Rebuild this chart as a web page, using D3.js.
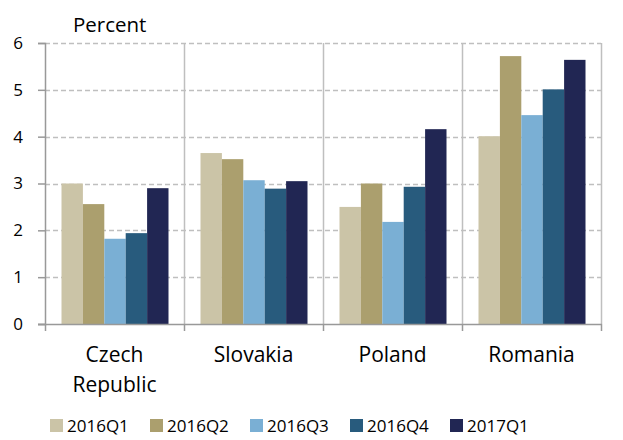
<!DOCTYPE html>
<html>
<head>
<meta charset="utf-8">
<script src="https://cdn.jsdelivr.net/npm/d3@7"></script>
<style>
  body { margin: 0; background: #fff; }
  svg { font-family: "Open Sans", sans-serif; }
</style>
</head>
<body>
<div id="chart"></div>
<script>
// data
var countries = ["Czech Republic", "Slovakia", "Poland", "Romania"];
var quarters = ["2016Q1", "2016Q2", "2016Q3", "2016Q4", "2017Q1"];
var q1_2016 = [3.00, 3.65, 2.50, 4.01];
var q2_2016 = [2.56, 3.52, 3.00, 5.72];
var q3_2016 = [1.82, 3.07, 2.18, 4.46];
var q4_2016 = [1.94, 2.89, 2.93, 5.01];
var q1_2017 = [2.90, 3.05, 4.16, 5.64];
var yTicks = [0, 1, 2, 3, 4, 5, 6];
var colors = ["#cbc4a7", "#ab9f6e", "#7aafd4", "#285b7d", "#212653"];

var series = [q1_2016, q2_2016, q3_2016, q4_2016, q1_2017];
var fontFam = "'Open Sans', sans-serif";

var margin = {top: 43, right: 22, bottom: 116, left: 45},
    width = 623 - margin.left - margin.right,
    height = 440 - margin.top - margin.bottom;

var svg = d3.select("#chart").append("svg")
    .attr("width", 623)
    .attr("height", 440);

var g = svg.append("g")
    .attr("transform", "translate(" + margin.left + "," + margin.top + ")");

var x = d3.scaleBand()
    .domain(countries)
    .range([0, width])
    .paddingInner(0)
    .paddingOuter(0);

var x1 = d3.scaleBand()
    .domain(quarters)
    .range([16.5, x.bandwidth() - 15.5])
    .padding(0);

var y = d3.scaleLinear()
    .domain([0, 6])
    .range([height, 0]);

// dashed horizontal gridlines
g.append("g")
  .selectAll("line")
  .data(yTicks.filter(function(d) { return d > 0; }))
  .enter().append("line")
    .attr("x1", 0)
    .attr("x2", width)
    .attr("y1", function(d) { return Math.round(y(d)) + 0.5; })
    .attr("y2", function(d) { return Math.round(y(d)) + 0.5; })
    .attr("stroke", "#bfbfbf")
    .attr("stroke-width", 1.5)
    .attr("stroke-dasharray", "5,3");

// vertical separators between countries + right edge
var bounds = countries.slice(1).map(function(c) { return x(c); }).concat([width]);
g.append("g")
  .selectAll("line")
  .data(bounds)
  .enter().append("line")
    .attr("x1", function(d) { return Math.round(d) + 0.5; })
    .attr("x2", function(d) { return Math.round(d) + 0.5; })
    .attr("y1", 0)
    .attr("y2", height)
    .attr("stroke", "#bfbfbf")
    .attr("stroke-width", 1.5);

// bars
var groups = g.append("g")
  .selectAll("g")
  .data(series)
  .enter().append("g")
    .attr("fill", function(d, i) { return colors[i]; });

groups.selectAll("rect")
  .data(function(d, i) {
    return d.map(function(v, j) { return {country: countries[j], q: quarters[i], value: v}; });
  })
  .enter().append("rect")
    .attr("x", function(d) { return x(d.country) + x1(d.q); })
    .attr("y", function(d) { return y(d.value); })
    .attr("width", x1.bandwidth())
    .attr("height", function(d) { return height - y(d.value); });

// y axis
var yAxis = g.append("g")
    .call(d3.axisLeft(y).tickValues(yTicks).tickSize(7).tickPadding(15).tickFormat(d3.format("d")));
yAxis.attr("font-family", fontFam).attr("font-size", 17);
yAxis.select(".domain").attr("stroke", "#999").attr("stroke-width", 1.5);
yAxis.selectAll(".tick line").attr("stroke", "#999").attr("stroke-width", 1.5);
yAxis.selectAll("text").attr("fill", "#000");

// x axis line with boundary ticks
g.append("line")
    .attr("x1", -7)
    .attr("x2", width + 1)
    .attr("y1", height + 0.5)
    .attr("y2", height + 0.5)
    .attr("stroke", "#999")
    .attr("stroke-width", 1.5);

g.append("g")
  .selectAll("line")
  .data([0].concat(bounds))
  .enter().append("line")
    .attr("x1", function(d) { return Math.round(d) + 0.5; })
    .attr("x2", function(d) { return Math.round(d) + 0.5; })
    .attr("y1", height)
    .attr("y2", height + 7)
    .attr("stroke", "#999")
    .attr("stroke-width", 1.5);

// category labels
var labels = g.append("g")
  .selectAll("text")
  .data(countries)
  .enter().append("text")
    .attr("x", function(d) { return x(d) + x.bandwidth() / 2; })
    .attr("y", height + 38)
    .attr("text-anchor", "middle")
    .attr("font-size", "21px")
    .attr("fill", "#000");

labels.each(function(d) {
  var words = d.split(" ");
  var t = d3.select(this);
  words.forEach(function(w, i) {
    t.append("tspan")
      .attr("x", x(d) + x.bandwidth() / 2)
      .attr("dy", i === 0 ? 0 : 30)
      .text(w);
  });
});

// y axis title
svg.append("text")
    .attr("x", 73)
    .attr("y", 32)
    .attr("font-size", "20.5px")
    .attr("fill", "#000")
    .text("Percent");

// legend
var legend = svg.append("g")
  .selectAll("g")
  .data(quarters)
  .enter().append("g")
    .attr("transform", function(d, i) { return "translate(" + (50 + i * 100) + ",419)"; });

legend.append("rect")
    .attr("width", 13)
    .attr("height", 13)
    .attr("fill", function(d, i) { return colors[i]; });

legend.append("text")
    .attr("x", 17)
    .attr("y", 13)
    .attr("font-size", "17px")
    .attr("fill", "#000")
    .text(function(d) { return d; });
</script>
</body>
</html>
